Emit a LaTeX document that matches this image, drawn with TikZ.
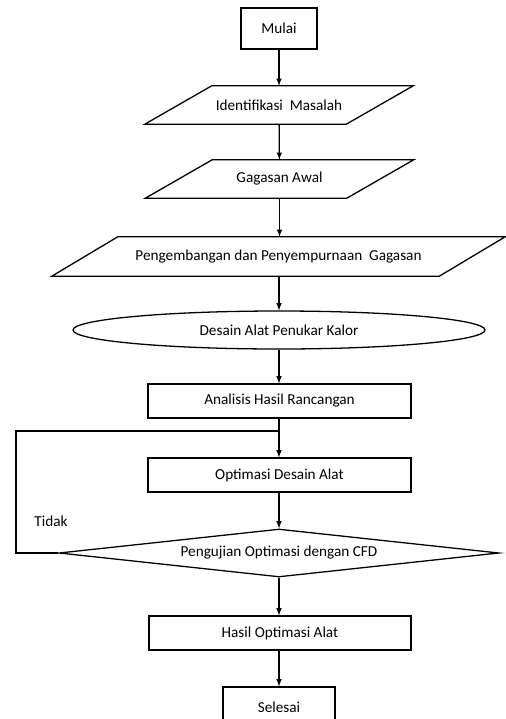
\documentclass[tikz,border=0pt]{standalone}
\usepackage{fontspec}
\setmainfont{Carlito}
\usepackage{tikz}
\usetikzlibrary{arrows.meta,shapes.geometric}

\newlength\pxl
\setlength\pxl{0.03cm}

\tikzset{
    huruf/.style={font=\fontsize{13}{15}\selectfont},
    garis/.style={line width=1.1pt},
    box/.style={draw,garis,rectangle,inner sep=0pt,huruf},
    jajar/.style={rectangle,inner sep=0pt,huruf},
    lonjong/.style={draw,garis,ellipse,inner sep=0pt,huruf},
    belah/.style={draw,garis,diamond,aspect=9,inner sep=0pt,huruf},
    panah/.style={garis,-latex}
}

\begin{document}
\begin{tikzpicture}[x=0.03cm,y=-0.03cm]

    % Frame of the picture
    \clip (0,0) rectangle (506,719);

    % Draw the steps
    \node[box,minimum width=76\pxl,minimum height=41\pxl] (mulai) at (279,28.5) {Mulai};
    \node[jajar,minimum width=201\pxl,minimum height=38\pxl] (idm) at (279,105) {Identifikasi\ \ Masalah};
    \node[jajar,minimum width=201\pxl,minimum height=38\pxl] (awal) at (279.5,179) {Gagasan Awal};
    \node[jajar,minimum width=387\pxl,minimum height=39\pxl] (kembang) at (278.5,256.5) {Pengembangan dan Penyempurnaan\ \ Gagasan};
    \node[lonjong,minimum width=412\pxl,minimum height=38\pxl] (desain) at (279,330) {Desain Alat Penukar Kalor};
    \node[box,minimum width=263\pxl,minimum height=34\pxl] (analisis) at (279.5,401) {Analisis Hasil Rancangan};
    \node[box,minimum width=263\pxl,minimum height=34\pxl] (optim) at (279.5,475) {Optimasi Desain Alat};
    \node[belah,minimum width=440\pxl,minimum height=48\pxl] (uji) at (279,553) {Pengujian Optimasi dengan CFD};
    \node[box,minimum width=262\pxl,minimum height=34\pxl] (hasil) at (280,633) {Hasil Optimasi Alat};
    \node[box,minimum width=112\pxl,minimum height=40\pxl,text depth=0pt] (selesai) at (279,707) {Selesai};

    % Slanted outlines of the input steps
    \foreach \n/\g in {idm/33.5,awal/33.5,kembang/33}
        \draw[garis] ([xshift=\g\pxl]\n.north west) -- ([xshift=\g\pxl]\n.north east)
            -- ([xshift=-\g\pxl]\n.south east) -- ([xshift=-\g\pxl]\n.south west) -- cycle;

    % Label of the loop
    \node[huruf] (tidak) at (51,521) {Tidak};

    % Draw the arrows
    \draw[panah] (mulai) -- (idm);
    \draw[panah] (idm) -- (awal);
    \draw[panah] (awal.south) -- (awal.south |- kembang.north);
    \draw[panah] (kembang.south -| desain.north) -- (desain);
    \draw[panah] (desain) -- (analisis.north -| desain.south);
    \draw[panah] (analisis.south -| desain.south) -- (optim.north -| desain.south);
    \draw[panah] (optim.south -| desain.south) -- (uji);
    \draw[panah] (uji) -- (hasil.north -| uji.south);
    \draw[panah] (hasil.south -| uji.south) -- (selesai);

    % Draw the way back
    \coordinate (kiri) at (16,553);
    \coordinate (gabung) at (279,431);
    \draw[garis] (uji.west) -- (kiri) |- (gabung);

\end{tikzpicture}
\end{document}
